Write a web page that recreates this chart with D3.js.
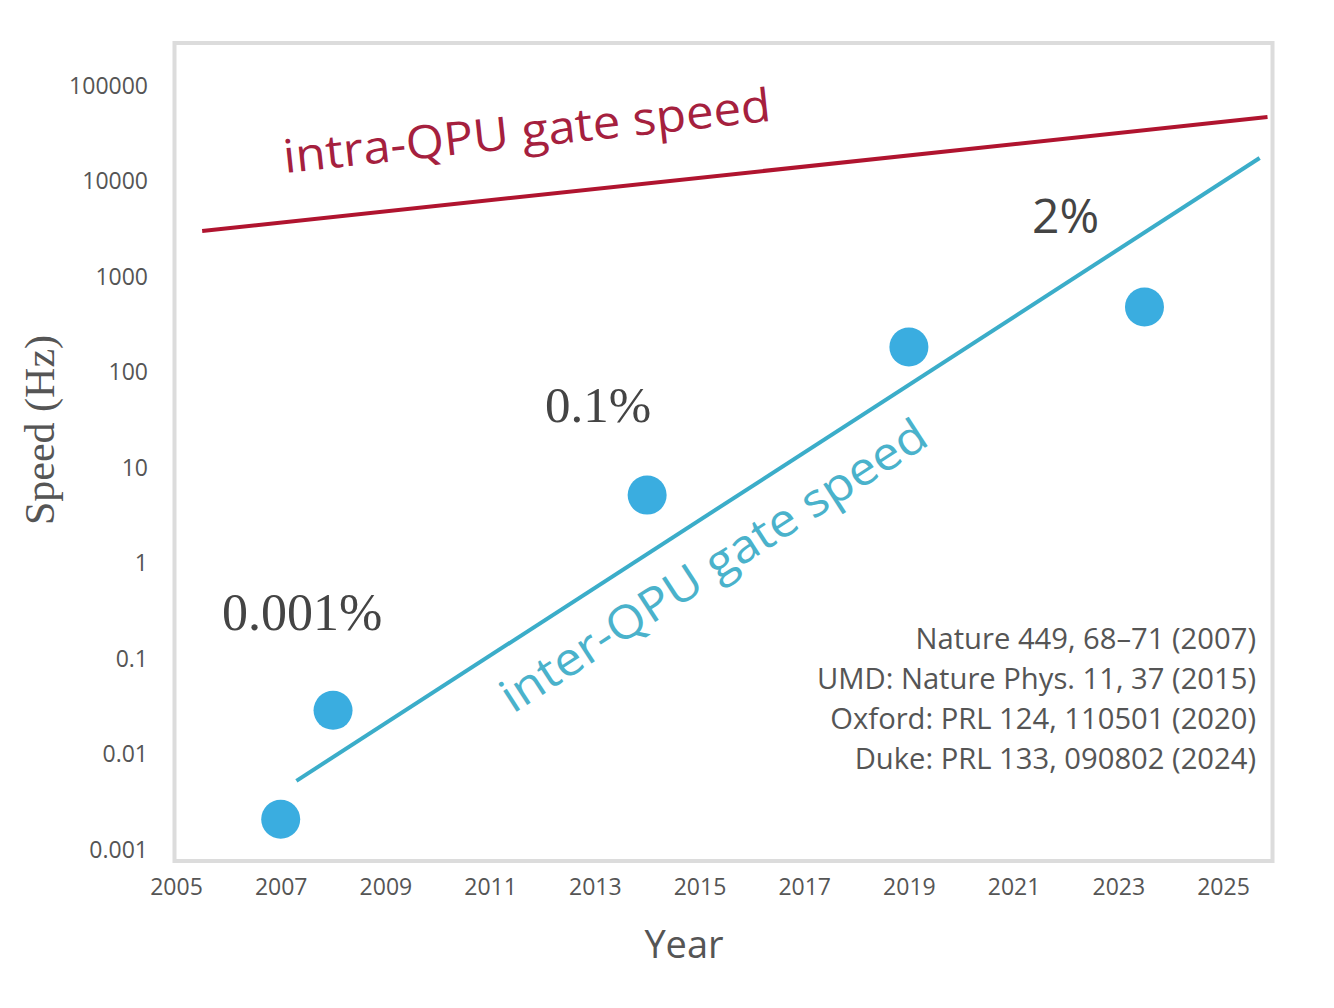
<!DOCTYPE html>
<html>
<head>
<meta charset="utf-8">
<script src="https://cdn.jsdelivr.net/npm/d3@7"></script>
<style>
    html, body { margin: 0; padding: 0; background: #fff; }
    svg { display: block; }
</style>
</head>
<body>
<div id="chart"></div>
<script>
"use strict";

/*
 * ============================================================================
 * Data
 * ============================================================================
 */

// measured inter-QPU gate speeds (Hz)
const pointYears = [2007, 2008, 2014, 2019, 2023.5];
const pointSpeeds = [0.0021, 0.029, 5.2, 185, 485];

// trend lines, two end points each
const intraYears = [2005.5, 2025.85];
const intraSpeeds = [3030, 47300];
const interYears = [2007.3, 2025.7];
const interSpeeds = [0.0053, 17600];

const xTicks = [2005, 2007, 2009, 2011, 2013, 2015, 2017, 2019, 2021, 2023, 2025];
const yTicks = [0.001, 0.01, 0.1, 1, 10, 100, 1000, 10000, 100000];
const yTickLabels = ["0.001", "0.01", "0.1", "1", "10", "100", "1000", "10000", "100000"];

const fractionLabels = ["0.001%", "0.1%", "2%"];
const references = [
    "Nature 449, 68\u201371 (2007)",
    "UMD: Nature Phys. 11, 37 (2015)",
    "Oxford: PRL 124, 110501 (2020)",
    "Duke: PRL 133, 090802 (2024)"
];


/*
 * ============================================================================
 * Plot
 * ============================================================================
 */

const WIDTH = 1334;
const HEIGHT = 1008;
const SANS = "'Open Sans', 'Noto Sans', sans-serif";
const SERIF = "'Liberation Serif', 'DejaVu Serif', serif";
const TEXT = "#555";

const svg = d3.select("#chart")
  .append("svg")
    .attr("width", WIDTH)
    .attr("height", HEIGHT);

const x = d3.scaleLinear()
    .domain([2005, 2025])
    .range([176, 1223]);

const y = d3.scaleLog()
    .domain([0.001, 100000])
    .range([850, 86]);

// plot frame
svg.append("rect")
    .attr("x", 174.5)
    .attr("y", 43)
    .attr("width", 1098)
    .attr("height", 818)
    .attr("fill", "none")
    .attr("stroke", "#dcdcdc")
    .attr("stroke-width", 4);

// axes, labels only
const xaxis = svg.append("g")
    .attr("transform", "translate(0,862)")
    .call(d3.axisBottom(x).tickValues(xTicks).tickFormat(d3.format("d"))
        .tickSize(0).tickPadding(17));

const yaxis = svg.append("g")
    .attr("transform", "translate(174,0)")
    .call(d3.axisLeft(y).tickValues(yTicks).tickFormat((d, i) => yTickLabels[i])
        .tickSize(0).tickPadding(26));

[xaxis, yaxis].forEach(g => {
    g.select(".domain").remove();
    g.selectAll("text")
        .attr("font-family", SANS)
        .attr("font-size", 23)
        .attr("fill", TEXT);
});

// axis titles
svg.append("text")
    .attr("x", 684)
    .attr("y", 958)
    .attr("text-anchor", "middle")
    .attr("font-family", SANS)
    .attr("font-size", 38)
    .attr("fill", TEXT)
    .text("Year");

svg.append("text")
    .attr("transform", "translate(54,430) rotate(-90)")
    .attr("text-anchor", "middle")
    .attr("font-family", SERIF)
    .attr("font-size", 42)
    .attr("fill", TEXT)
    .text("Speed (Hz)");

// trend lines
const line = d3.line()
    .x(d => x(d[0]))
    .y(d => y(d[1]));

const intra = d3.zip(intraYears, intraSpeeds);
const inter = d3.zip(interYears, interSpeeds);

svg.append("path")
    .datum(intra)
    .attr("d", line)
    .attr("fill", "none")
    .attr("stroke", "#b0142f")
    .attr("stroke-width", 4);

svg.append("path")
    .datum(inter)
    .attr("d", line)
    .attr("fill", "none")
    .attr("stroke", "#3badc9")
    .attr("stroke-width", 4);

// points
svg.selectAll(".point")
    .data(d3.zip(pointYears, pointSpeeds))
  .enter()
  .append("circle")
    .attr("class", "point")
    .attr("cx", d => x(d[0]))
    .attr("cy", d => y(d[1]))
    .attr("r", 19.5)
    .attr("fill", "#3aade0");

// labels that follow the trend lines
function slope(pts) {
    const dx = x(pts[1][0]) - x(pts[0][0]);
    const dy = y(pts[1][1]) - y(pts[0][1]);
    return Math.atan2(dy, dx) * 180 / Math.PI;
}

svg.append("text")
    .attr("transform", `translate(285,173) rotate(${slope(intra)})`)
    .attr("font-family", SANS)
    .attr("font-size", 46)
    .attr("fill", "#a5203e")
    .attr("textLength", 490)
    .attr("lengthAdjust", "spacingAndGlyphs")
    .text("intra-QPU gate speed");

svg.append("text")
    .attr("transform", `translate(513,714) rotate(${slope(inter)})`)
    .attr("font-family", SANS)
    .attr("font-size", 46)
    .attr("fill", "#4ab2cb")
    .attr("textLength", 498)
    .attr("lengthAdjust", "spacingAndGlyphs")
    .text("inter-QPU gate speed");

// fraction annotations
const fractionPos = [[222, 630, SERIF, 52], [545, 422, SERIF, 51], [1032, 233, SANS, 48]];
fractionLabels.forEach((t, i) => {
    const p = fractionPos[i];
    svg.append("text")
        .attr("x", p[0])
        .attr("y", p[1])
        .attr("font-family", p[2])
        .attr("font-size", p[3])
        .attr("fill", "#444")
        .text(t);
});

// references
svg.selectAll(".ref")
    .data(references)
  .enter()
  .append("text")
    .attr("class", "ref")
    .attr("x", 1256)
    .attr("y", (d, i) => 649 + i * 40)
    .attr("text-anchor", "end")
    .attr("font-family", SANS)
    .attr("font-size", 29.2)
    .attr("fill", TEXT)
    .text(d => d);
</script>
</body>
</html>
